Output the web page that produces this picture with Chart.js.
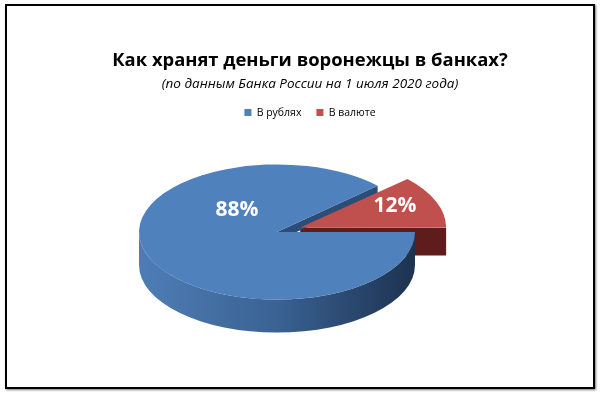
<!DOCTYPE html>
<html><head><meta charset="utf-8">
<script src="https://cdn.jsdelivr.net/npm/chart.js@4.4.1/dist/chart.umd.min.js"></script>
<style>
html,body{margin:0;padding:0;background:#fff;}
#wrap{position:relative;width:600px;height:396px;overflow:hidden;}
#frame{position:absolute;left:5px;top:4px;width:586px;height:381px;border:2px solid #000;box-shadow:1px 1px 2px #777;}
canvas{position:absolute;left:0;top:0;}
</style></head><body>
<div id="wrap"><div id="frame"></div><canvas id="c" width="600" height="396"></canvas></div>
<script>
// ---- data ----
const categories = ['В рублях', 'В валюте'];
const shares = [88, 12];
const sliceColors = ['#4F81BD', '#C0504D'];
const titleText = 'Как хранят деньги воронежцы в банках?';
const subtitleText = '(по данным Банка России на 1 июля 2020 года)';

// ---- styling / 3D emulation ----
const FONT = '"Open Sans", "Noto Sans", sans-serif';
const PIE = {cx: 277, cy: 232, k: 0.49, depth: 33};
const wallGrad = [['#4e7db6', '#3a6293', '#1d3250'], ['#6a2320', '#5a1b18', '#4a1412']];
const faceColors = ['#2c4d78', '#5e1d1a'];
const faceDepth = [9, 28];
const labelPos = [[237, 210], [395, 206]];

function norm(a){ const T=Math.PI*2; return ((a % T) + T) % T; }

const pie3d = {
  id: 'pie3d',
  beforeDatasetsDraw(chart) {
    const ctx = chart.ctx;
    const meta = chart.getDatasetMeta(0);
    const K = PIE.k;
    const geo = meta.data.map((arc) => {
      const p = arc.getProps(['x','y','startAngle','endAngle','outerRadius','circumference'], true);
      const t = (arc.options.offset || 0) / 4;
      const h = (p.startAngle + p.endAngle) / 2;
      const fix = 1 - Math.sin(Math.min(Math.PI, p.circumference));
      return {
        cx: PIE.cx + Math.cos(h) * t,
        cy: PIE.cy + Math.sin(h) * t * K,
        R: p.outerRadius + t * fix,
        s: p.startAngle, e: p.endAngle
      };
    });
    const grad = (g, cols) => {
      const lg = ctx.createLinearGradient(g.cx - g.R, 0, g.cx + g.R, 0);
      lg.addColorStop(0, cols[0]); lg.addColorStop(0.5, cols[1]); lg.addColorStop(1, cols[2]);
      return lg;
    };
    const face = (g, th, d, col) => {
      ctx.beginPath();
      ctx.moveTo(g.cx, g.cy);
      ctx.lineTo(g.cx + g.R * Math.cos(th), g.cy + g.R * K * Math.sin(th));
      ctx.lineTo(g.cx + g.R * Math.cos(th), g.cy + g.R * K * Math.sin(th) + d);
      ctx.lineTo(g.cx, g.cy + d);
      ctx.closePath();
      ctx.fillStyle = col; ctx.fill();
    };
    const wall = (g, cols) => {
      const s = norm(g.s); const e = s + (g.e - g.s);
      const ranges = [];
      for (let base = -2*Math.PI; base <= 2*Math.PI; base += 2*Math.PI) {
        const a1 = Math.max(s, base), a2 = Math.min(e, base + Math.PI);
        if (a2 - a1 > 1e-4) ranges.push([a1, a2]);
      }
      ranges.forEach(([a1, a2]) => {
        ctx.beginPath();
        ctx.ellipse(g.cx, g.cy, g.R, g.R * K, 0, a1, a2, false);
        ctx.ellipse(g.cx, g.cy + PIE.depth, g.R, g.R * K, 0, a2, a1, true);
        ctx.closePath();
        ctx.fillStyle = grad(g, cols); ctx.fill();
      });
    };
    ctx.save();
    for (let i = geo.length - 1; i >= 0; i--) {
      const g = geo[i];
      if (Math.cos(g.s) < 0) face(g, g.s, faceDepth[i], faceColors[i]);
      if (Math.cos(g.e) > 0) face(g, g.e, faceDepth[i], faceColors[i]);
      wall(g, wallGrad[i]);
    }
    ctx.restore();
    const a0 = meta.data[0];
    ctx.save();
    ctx.translate(PIE.cx, PIE.cy);
    ctx.scale(1, K);
    ctx.translate(-a0.x, -a0.y);
  },
  afterDatasetsDraw(chart) {
    const ctx = chart.ctx;
    ctx.restore();
    ctx.save();
    ctx.fillStyle = '#ffffff';
    ctx.font = 'bold 21px ' + FONT;
    ctx.textAlign = 'center'; ctx.textBaseline = 'middle';
    shares.forEach((v, i) => ctx.fillText(v + '%', labelPos[i][0], labelPos[i][1]));
    ctx.restore();
  }
};

new Chart(document.getElementById('c'), {
  type: 'pie',
  data: {
    labels: categories,
    datasets: [{
      data: shares,
      backgroundColor: sliceColors,
      borderWidth: 0,
      offset: [0, 100],
      clip: false
    }]
  },
  options: {
    responsive: false,
    animation: false,
    devicePixelRatio: 1,
    events: [],
    rotation: 90,
    radius: 138,
    layout: {padding: {left: 20}},
    plugins: {
      title: {
        display: true, text: titleText, color: '#000',
        font: {family: FONT, size: 18.4, weight: 'bold'},
        padding: {top: 50, bottom: 4}
      },
      subtitle: {
        display: true, text: subtitleText, color: '#000',
        font: {family: FONT, size: 13.5, style: 'italic'},
        padding: {top: 0, bottom: 0}
      },
      legend: {
        position: 'top',
        labels: {boxWidth: 7, boxHeight: 7, color: '#000', padding: 15,
                 font: {family: FONT, size: 10.5}}
      },
      tooltip: {enabled: false}
    }
  },
  plugins: [pie3d]
});
</script>
</body></html>
